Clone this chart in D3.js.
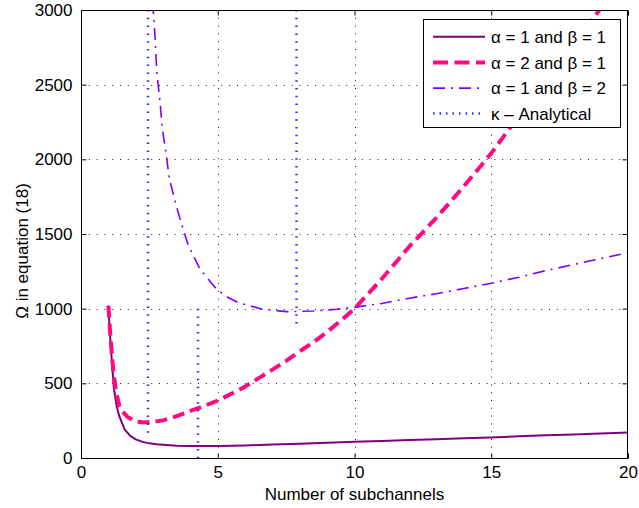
<!DOCTYPE html>
<html>
<head>
<meta charset="utf-8">
<script src="https://cdn.jsdelivr.net/npm/d3@7"></script>
<style>
  html, body { margin: 0; padding: 0; background: #fff; }
  text { font-family: "Liberation Sans", Arial, Helvetica, sans-serif; }
</style>
</head>
<body>
<svg id="chart" width="639" height="508"></svg>
<script>
// ---- data ----
const xTicks = [0, 5, 10, 15, 20];
const yTicks = [0, 500, 1000, 1500, 2000, 2500, 3000];

const s1x = [1, 1.05, 1.1, 1.2, 1.3, 1.4, 1.6, 1.8, 2, 2.25, 2.5, 2.75, 3, 3.5, 4, 5, 6, 7, 8, 9, 10, 11, 12, 13, 14, 15, 16, 17, 18, 19, 20];
const s1y = [1020, 860, 720, 470, 350, 280, 190, 148, 125, 108, 98, 92, 88, 82, 80, 80, 84, 90, 96, 102, 108, 114, 120, 126, 132, 138, 145, 152, 158, 164, 170];

const s2x = [1, 1.06, 1.12, 1.18, 1.28, 1.4, 1.5, 1.7, 2, 2.3, 2.6, 3, 3.5, 4, 4.5, 5, 5.5, 6, 6.5, 7, 7.5, 8, 8.5, 9, 9.5, 10, 11, 12, 13, 14, 15, 16, 17, 18, 19, 20];
const s2y = [1020, 857, 712, 589, 444, 350, 315, 275, 245, 238, 242, 252, 280, 315, 348, 384, 430, 478, 535, 592, 650, 715, 775, 845, 920, 1000, 1200, 1415, 1610, 1820, 2040, 2290, 2530, 2770, 3010, 3250];

const s3x = [2.5, 2.64, 2.71, 2.77, 2.89, 2.97, 3.1, 3.23, 3.41, 3.65, 3.92, 4.35, 4.96, 5.33, 5.75, 6.6, 7.5, 8.5, 9.35, 10, 11, 12, 13, 14, 15, 16, 17, 18, 19, 20];
const s3y = [3400, 3000, 2811, 2587, 2386, 2208, 2051, 1873, 1739, 1582, 1426, 1265, 1130, 1080, 1040, 998, 980, 984, 996, 1010, 1035, 1070, 1100, 1135, 1170, 1210, 1255, 1295, 1335, 1375];

// kappa analytical vertical markers: x, from, to
const kappaX = [2.45, 4.28, 7.88];
const kappaFrom = [140, 0, 880];
const kappaTo = [3000, 1000, 3000];

const legendLabels = ["α = 1 and β = 1", "α = 2 and β = 1", "α = 1 and β = 2", "κ – Analytical"];

// ---- layout ----
const svg = d3.select("#chart");
const L = 81, R = 628, T = 10, B = 458;
const x = d3.scaleLinear().domain([0, 20]).range([L, R]);
const y = d3.scaleLinear().domain([0, 3000]).range([B, T]);

const styles = [
  { color: "#800080", width: 2, dash: null },
  { color: "#ff0a80", width: 4, dash: "12,6" },
  { color: "#8000ff", width: 1.6, dash: "12,6,2,6" },
  { color: "#3030ff", width: 2.5, dash: "1.5,6.3" }
];

svg.append("defs").append("clipPath").attr("id", "clip")
  .append("rect").attr("x", L).attr("y", T).attr("width", R - L).attr("height", B - T);

// grid
const grid = svg.append("g").attr("stroke", "#222").attr("stroke-width", 1).attr("stroke-dasharray", "1,6.8");
grid.selectAll(".gx").data(xTicks.slice(1, -1)).join("line")
  .attr("x1", d => Math.round(x(d)) + 0.5).attr("x2", d => Math.round(x(d)) + 0.5)
  .attr("y1", T).attr("y2", B);
grid.selectAll(".gy").data(yTicks.slice(1, -1)).join("line")
  .attr("y1", d => Math.round(y(d)) + 0.5).attr("y2", d => Math.round(y(d)) + 0.5)
  .attr("x1", L).attr("x2", R);

// series
const line = d3.line().x(d => x(d[0])).y(d => y(d[1]));
const plot = svg.append("g").attr("clip-path", "url(#clip)");
const series = [d3.zip(s1x, s1y), d3.zip(s2x, s2y), d3.zip(s3x, s3y)];
series.forEach((data, i) => {
  plot.append("path").datum(data)
    .attr("d", line)
    .attr("fill", "none")
    .attr("stroke", styles[i].color)
    .attr("stroke-width", styles[i].width)
    .attr("stroke-dasharray", styles[i].dash)
    .attr("stroke-linejoin", "round");
});

// kappa lines
kappaX.forEach((kx, i) => {
  plot.append("line")
    .attr("x1", x(kx)).attr("x2", x(kx))
    .attr("y1", y(kappaTo[i])).attr("y2", y(kappaFrom[i]))
    .attr("stroke", styles[3].color)
    .attr("stroke-width", styles[3].width)
    .attr("stroke-dasharray", styles[3].dash);
});

// axes box
svg.append("rect").attr("x", L + 0.5).attr("y", T + 0.5)
  .attr("width", R - L - 1).attr("height", B - T)
  .attr("fill", "none").attr("stroke", "#000").attr("stroke-width", 1);

const axB = d3.axisBottom(x).tickValues(xTicks).tickSize(-5).tickPadding(7).tickFormat(d3.format("d"));
const axT = d3.axisTop(x).tickValues(xTicks).tickSize(-5).tickFormat("");
const axLft = d3.axisLeft(y).tickValues(yTicks).tickSize(-5).tickPadding(9).tickFormat(d3.format("d"));
const axRgt = d3.axisRight(y).tickValues(yTicks).tickSize(-5).tickFormat("");

function styleAxis(g) {
  g.select(".domain").remove();
  g.selectAll(".tick line").attr("stroke", "#000");
  g.selectAll(".tick text").attr("fill", "#000").style("font-size", "17px")
    .style("font-family", "'Liberation Sans', Arial, Helvetica, sans-serif");
}
svg.append("g").attr("transform", `translate(0,${B + 0.5})`).call(axB).call(styleAxis);
svg.append("g").attr("transform", `translate(0,${T + 0.5})`).call(axT).call(styleAxis);
svg.append("g").attr("transform", `translate(${L + 0.5},0)`).call(axLft).call(styleAxis);
svg.append("g").attr("transform", `translate(${R - 0.5},0)`).call(axRgt).call(styleAxis);

// axis labels
svg.append("text").attr("x", (L + R) / 2).attr("y", 500)
  .attr("text-anchor", "middle").style("font-size", "17px").text("Number of subchannels");
svg.append("text").attr("transform", `translate(28,${(T + B) / 2 + 17}) rotate(-90)`)
  .attr("text-anchor", "middle").style("font-size", "17px").text("Ω in equation (18)");

// legend
const lg = svg.append("g");
lg.append("rect").attr("x", 423.5).attr("y", 19.5).attr("width", 197).attr("height", 108)
  .attr("fill", "#fff").attr("stroke", "#000").attr("stroke-width", 1);
const rowY = [36.7, 62.4, 88.1, 113.4];
legendLabels.forEach((lab, i) => {
  lg.append("line").attr("x1", 433).attr("x2", 485).attr("y1", rowY[i]).attr("y2", rowY[i])
    .attr("stroke", styles[i].color)
    .attr("stroke-width", i === 3 ? 2.5 : styles[i].width)
    .attr("stroke-dasharray", i === 3 ? "1.5,5" : (i === 1 ? "15,6.5" : styles[i].dash));
  lg.append("text").attr("x", 491).attr("y", rowY[i]).attr("dy", "0.36em")
    .style("font-size", "17px").text(lab);
});
</script>
</body>
</html>
